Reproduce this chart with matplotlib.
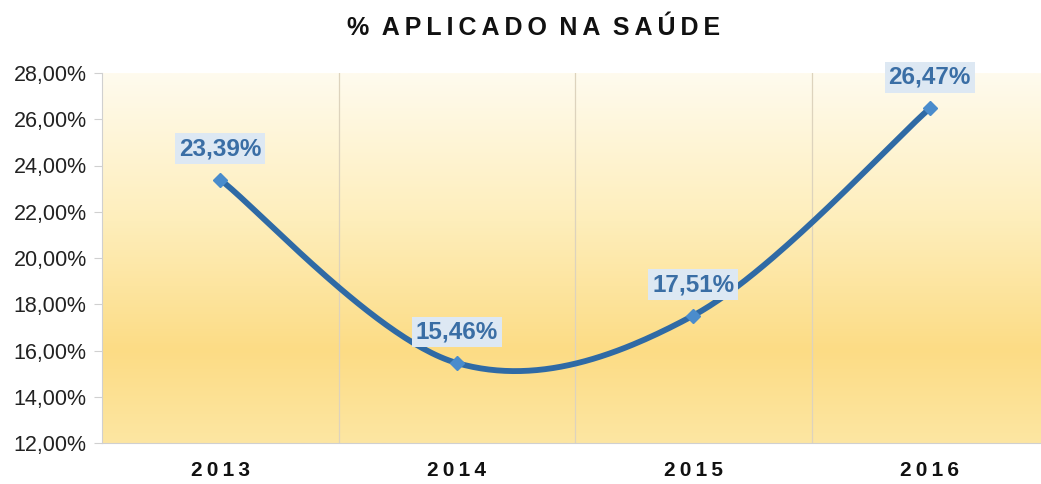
import numpy as np
import matplotlib
matplotlib.use("Agg")
import matplotlib.pyplot as plt
from matplotlib.colors import LinearSegmentedColormap

plt.rcParams["font.family"] = ["Liberation Sans", "DejaVu Sans"]

title = "% APLICADO NA SAÚDE"
years = ["2013", "2014", "2015", "2016"]
values = [23.39, 15.46, 17.51, 26.47]
labels = ["23,39%", "15,46%", "17,51%", "26,47%"]
yticks = [12, 14, 16, 18, 20, 22, 24, 26, 28]

LINE = "#2f6aa5"
MARK = "#4a8ccc"
TXT = "#3a6ea5"


def spaced(s, sep="\u2009", gap="\u2002"):
    # imitate the wide letter spacing of the original
    return gap.join(sep.join(w) for w in s.split(" "))


def smooth(xs, ys, n=60):
    # Excel-style smoothed line: cubic bezier with 1/6 neighbour tangents
    xs, ys = np.asarray(xs, float), np.asarray(ys, float)
    px, py = [], []
    m = len(xs)
    for i in range(m - 1):
        a, b = max(i - 1, 0), min(i + 2, m - 1)
        c1x = xs[i] + (xs[i + 1] - xs[a]) / 6
        c1y = ys[i] + (ys[i + 1] - ys[a]) / 6
        c2x = xs[i + 1] - (xs[b] - xs[i]) / 6
        c2y = ys[i + 1] - (ys[b] - ys[i]) / 6
        t = np.linspace(0, 1, n)
        u = 1 - t
        px.append(u**3 * xs[i] + 3 * u**2 * t * c1x + 3 * u * t**2 * c2x + t**3 * xs[i + 1])
        py.append(u**3 * ys[i] + 3 * u**2 * t * c1y + 3 * u * t**2 * c2y + t**3 * ys[i + 1])
    return np.concatenate(px), np.concatenate(py)


fig = plt.figure(figsize=(10.41, 4.84), dpi=100)
ax = fig.add_axes([102 / 1041, 1 - 443 / 484, 946 / 1041, 370 / 484])

cmap = LinearSegmentedColormap.from_list(
    "bg", [(0, "#fde6a2"), (0.25, "#fcdc85"), (0.6, "#feeebb"), (1, "#fffbee")])
grad = np.linspace(0, 1, 256).reshape(-1, 1)
ax.imshow(grad, aspect="auto", cmap=cmap, origin="lower",
          extent=(0, 1, 0, 1), transform=ax.transAxes, zorder=0)

x = np.arange(len(years))
ax.set_xlim(-0.5, 3.5)
ax.set_ylim(12, 28)

for xv in [0.5, 1.5, 2.5]:
    ax.axvline(xv, color="#ddd3bd", lw=0.9, zorder=1)

sx, sy = smooth(x, values)
ax.plot(sx, sy, color=LINE, lw=4.2, solid_capstyle="round", zorder=3)
ax.plot(x, values, ls="none", marker="D", ms=7, color=MARK,
        markeredgecolor=MARK, zorder=4)

for xi, v, lab in zip(x, values, labels):
    ax.annotate(lab, (xi, v), textcoords="offset points", xytext=(0, 14),
                ha="center", va="bottom", fontsize=17.5, fontweight="bold",
                color=TXT, zorder=5,
                bbox=dict(boxstyle="square,pad=0.16", fc="#dde8f3", ec="none"))

ax.set_yticks(yticks)
ax.set_yticklabels([f"{t},00%" for t in yticks], fontsize=15.5, color="#222222")
ax.set_xticks(x)
ax.set_xticklabels([spaced(y) for y in years], fontsize=15,
                   fontweight="bold", color="#111111")
ax.tick_params(axis="x", length=0, pad=13)
ax.tick_params(axis="y", length=6, color="#d0d0d0", pad=5)
for s in ["top", "right"]:
    ax.spines[s].set_visible(False)
ax.spines["left"].set_color("#d0d0d0")
ax.spines["bottom"].set_color("#d0d0d0")

fig.text(0.513, 0.942, spaced(title), ha="center", va="center",
         fontsize=18, fontweight="bold", color="#111111")

fig.savefig("out.png", dpi=100)
